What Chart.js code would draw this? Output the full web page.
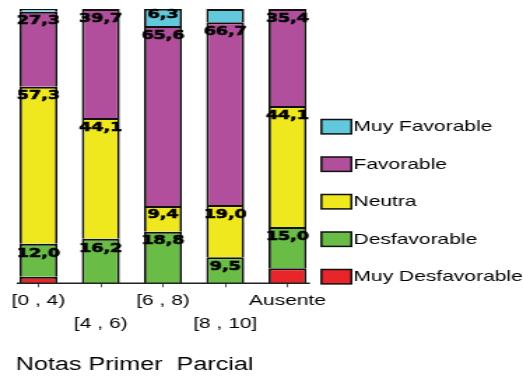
<!DOCTYPE html>
<html>
<head>
<meta charset="utf-8">
<script src="https://cdn.jsdelivr.net/npm/chart.js@4.4.1/dist/chart.umd.min.js"></script>
<style>
  html, body { margin: 0; padding: 0; background: #fff; }
  #notasChart { display: block; }
</style>
</head>
<body>
<!-- drawn narrow, shown wide -->
<canvas id="notasChart" width="374" height="378" style="width:523px;height:378px"></canvas>
<script>
// Data (percent of students per grade band)
const categories = ['[0 , 4)', '[4 , 6)', '[6 , 8)', '[8 , 10]', 'Ausente'];
const tickLabels = [['[0 , 4)'], ['', '[4 , 6)'], ['[6 , 8)'], ['', '[8 , 10]'], ['Ausente']];
const seriesNames = ['Muy Desfavorable', 'Desfavorable', 'Neutra', 'Favorable', 'Muy Favorable'];
const muyDesfavorable = [2.4, 0, 0, 0, 5.5];
const desfavorable = [12.0, 16.2, 18.8, 9.5, 15.0];
const neutra = [57.3, 44.1, 9.4, 19.0, 44.1];
const favorable = [27.3, 39.7, 65.6, 66.7, 35.4];
const muyFavorable = [1.0, 0, 6.3, 4.8, 0];
const colors = ['#e8262a', '#69bc46', '#f0e81e', '#b24f9c', '#62c8dc'];
const axisTitle = 'Notas Primer  Parcial';

const seriesValues = [muyDesfavorable, desfavorable, neutra, favorable, muyFavorable];

const FONT = '"Liberation Sans", Arial, sans-serif';

// Value labels near the top of each segment
const segmentLabels = {
    id: 'segmentLabels',
    afterDatasetsDraw(chart) {
        const ctx = chart.ctx;
        ctx.save();
        ctx.font = 'bold 12.5px "DejaVu Sans"';
        ctx.fillStyle = '#000';
        ctx.strokeStyle = '#000';
        ctx.lineWidth = 0.6;
        ctx.textAlign = 'center';
        ctx.textBaseline = 'middle';
        chart.data.datasets.forEach((ds, di) => {
            chart.getDatasetMeta(di).data.forEach((bar, i) => {
                const v = ds.data[i];
                if (v < 6) return;
                const h = bar.base - bar.y;
                const y = bar.y + Math.min(9.5, h * 0.36);
                const txt = v.toFixed(1).replace('.', ',');
                ctx.fillText(txt, bar.x, y);
                ctx.strokeText(txt, bar.x, y);
            });
        });
        ctx.restore();
    }
};

// Axis line, legend and axis title
const decorations = {
    id: 'decorations',
    afterDraw(chart) {
        const ctx = chart.ctx;
        const xs = chart.scales.x;
        const step = xs.getPixelForValue(1) - xs.getPixelForValue(0);

        ctx.save();
        ctx.strokeStyle = '#222';
        ctx.lineWidth = 1.5;
        ctx.beginPath();
        ctx.moveTo(xs.getPixelForValue(0) - step * 0.35, xs.top);
        ctx.lineTo(xs.getPixelForValue(4) + step * 0.36, xs.top);
        ctx.stroke();

        // legend, top item is the last series
        const boxX = chart.chartArea.right + 2;
        ctx.font = '15px ' + FONT;
        ctx.textBaseline = 'middle';
        ctx.textAlign = 'left';
        for (let j = 0; j < seriesNames.length; j++) {
            const k = seriesNames.length - 1 - j;
            const cy = 126.7 + j * 37.5;
            ctx.fillStyle = colors[k];
            ctx.fillRect(boxX, cy - 7.2, 21.4, 14.4);
            ctx.lineWidth = 1.5;
            ctx.strokeStyle = '#111';
            ctx.strokeRect(boxX, cy - 7.2, 21.4, 14.4);
            ctx.fillStyle = '#000';
            ctx.fillText(seriesNames[k], boxX + 23, cy + 0.5);
        }

        ctx.font = '18px ' + FONT;
        ctx.fillText(axisTitle, xs.left + 6, 365);
        ctx.restore();
    }
};

const ctx = document.getElementById('notasChart').getContext('2d');
new Chart(ctx, {
    type: 'bar',
    data: {
        labels: categories,
        datasets: seriesNames.map((name, i) => ({
            label: name,
            data: seriesValues[i],
            backgroundColor: colors[i],
            borderColor: '#111',
            // one shared line between stacked segments
            borderWidth: { top: 2, left: 1.8, right: 1.8, bottom: 0 },
            borderSkipped: false,
            barPercentage: 0.61,
            categoryPercentage: 1
        }))
    },
    options: {
        responsive: false,
        animation: false,
        layout: { padding: { left: 5.27, right: 146.15, top: 9, bottom: 0 } },
        plugins: { legend: { display: false }, tooltip: { enabled: false } },
        scales: {
            x: {
                stacked: true,
                offset: true,
                border: { display: false },
                grid: { drawOnChartArea: false, offset: false, tickLength: 4, color: '#555', lineWidth: 1 },
                ticks: {
                    autoSkip: false,
                    minRotation: 0,
                    maxRotation: 0,
                    padding: 3,
                    color: '#000',
                    font: { family: FONT, size: 15, lineHeight: 1.47 },
                    callback: (v, i) => tickLabels[i]
                },
                afterFit: s => { s.height = 94.7; }
            },
            y: { stacked: true, display: false, min: 0, max: 100 }
        }
    },
    plugins: [segmentLabels, decorations]
});
</script>
</body>
</html>
